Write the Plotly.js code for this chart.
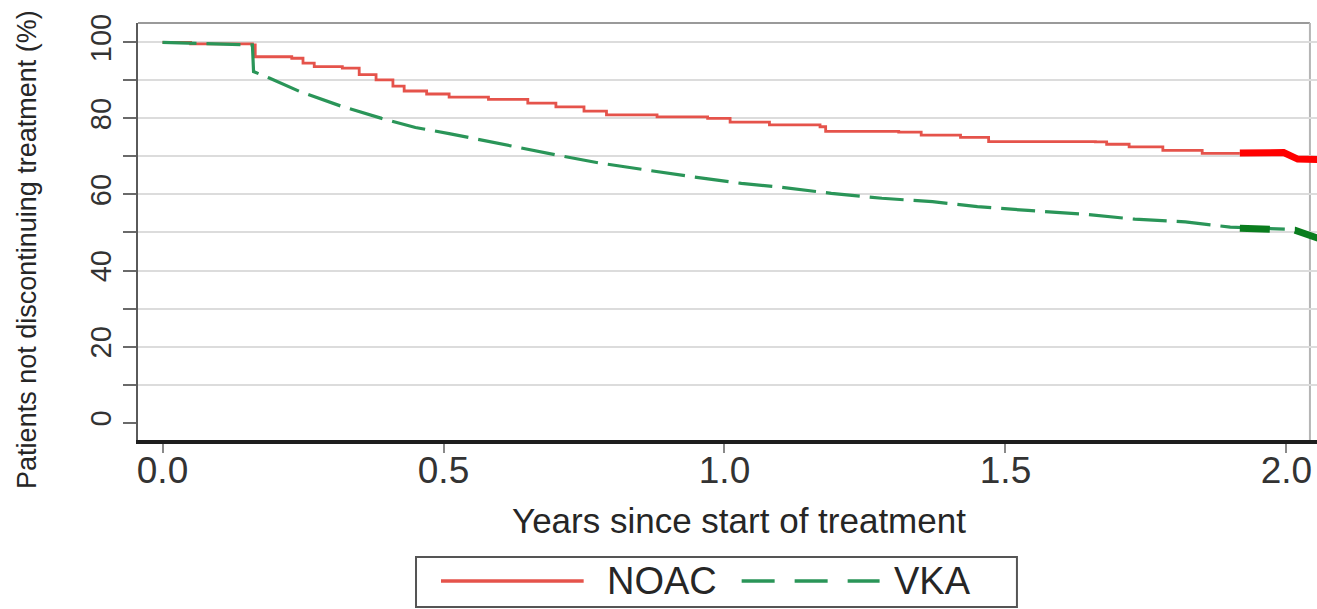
<!DOCTYPE html>
<html>
<head>
<meta charset="utf-8">
<script src="https://cdn.plot.ly/plotly-3.0.1.min.js"></script>
<style>
  html, body { margin: 0; padding: 0; background: #ffffff; }
  #chart { width: 1317px; height: 609px; }
</style>
</head>
<body>
<div id="chart"></div>
<script>
// Kaplan-Meier style persistence curves: share of patients still on treatment
const seriesNames = ["NOAC", "VKA"];

// NOAC (step curve), years since start vs % not discontinuing
const noacYears = [0, 0.05, 0.16, 0.165, 0.23, 0.25, 0.27, 0.32, 0.35, 0.38, 0.41, 0.43, 0.47, 0.51,
  0.58, 0.65, 0.70, 0.75, 0.79, 0.88, 0.97, 1.01, 1.08, 1.17, 1.18, 1.31, 1.35, 1.42, 1.47,
  1.66, 1.68, 1.72, 1.78, 1.85, 1.917];
const noacPct = [100, 99.6, 99.3, 96.2, 95.8, 94.5, 93.6, 93.2, 91.5, 90.1, 88.5, 87.2, 86.4, 85.6,
  85.0, 84.0, 83.0, 81.9, 80.9, 80.4, 80.0, 79.0, 78.3, 77.8, 76.6, 76.4, 75.6, 75.0, 73.9,
  73.8, 73.2, 72.5, 71.6, 70.8, 70.8];

// VKA curve
const vkaYears = [0, 0.08, 0.16, 0.162, 0.19, 0.245, 0.32, 0.39, 0.45, 0.51, 0.61, 0.70, 0.78, 0.86,
  0.94, 1.03, 1.10, 1.19, 1.28, 1.37, 1.45, 1.54, 1.64, 1.73, 1.82, 1.90, 1.997];
const vkaPct = [100, 99.6, 99.3, 92.3, 90.6, 87.0, 83.1, 80.0, 77.6, 76.0, 73.0, 70.4, 68.2, 66.4,
  64.7, 62.9, 61.9, 60.3, 59.0, 58.1, 56.8, 55.8, 54.8, 53.5, 52.8, 51.4, 50.9];

// Highlighted tail segments at the end of follow-up
const noacTailYears = [1.917, 1.995, 2.02, 2.06];
const noacTailPct = [70.9, 71.0, 69.3, 69.2];
const vkaTailYears = [1.917, 1.99, 2.015, 2.06];
const vkaTailPct = [51.1, 51.0, 50.6, 48.3];

// Axis ticks and titles
const xTickVals = [0, 0.5, 1.0, 1.5, 2.0];
const xTickText = ["0.0", "0.5", "1.0", "1.5", "2.0"];
const yTickVals = [0, 10, 20, 30, 40, 50, 60, 70, 80, 90, 100];
const yTickText = ["0", "", "20", "", "40", "", "60", "", "80", "", "100"];
const yGridVals = [10, 20, 30, 40, 50, 60, 70, 80, 90, 100];
const xTitle = "Years since start of treatment";
const yTitle = "Patients not discontinuing treatment (%)";

const RED = "#e5534b";
const GREEN = "#2a9558";
const INK = "#262626";
const FONT = "Liberation Sans, Arial, Helvetica, sans-serif";

const traces = [
  {
    x: noacYears, y: noacPct, name: seriesNames[0], type: "scatter", mode: "lines",
    line: { color: RED, width: 2.8, shape: "hv" }, showlegend: false, hoverinfo: "skip"
  },
  {
    x: vkaYears, y: vkaPct, name: seriesNames[1], type: "scatter", mode: "lines",
    line: { color: GREEN, width: 3.2, dash: "34px,10px" }, showlegend: false, hoverinfo: "skip"
  },
  {
    x: noacTailYears, y: noacTailPct, type: "scatter", mode: "lines",
    line: { color: "#ff0000", width: 7 }, showlegend: false, hoverinfo: "skip"
  },
  {
    x: vkaTailYears, y: vkaTailPct, type: "scatter", mode: "lines",
    line: { color: "#0a7d1e", width: 7, dash: "30px,25px" }, showlegend: false, hoverinfo: "skip"
  },
  // empty trace on the second y axis so its gridlines are drawn
  { x: [0], y: [0], yaxis: "y2", type: "scatter", mode: "none", showlegend: false, hoverinfo: "skip" }
];

const xRange = [-0.0436, 2.0543];
const yRange = [-4.55, 105.07];

// Legend drawn as a framed box below the x-axis title
const legendY = -0.338;
const shapes = [
  // top frame line
  { type: "line", xref: "paper", yref: "paper", x0: 0, x1: 0.994, y0: 1, y1: 1,
    line: { color: "#9a9a9a", width: 2 }, layer: "below" },
  // right frame line
  { type: "line", xref: "paper", yref: "paper", x0: 0.994, x1: 0.994, y0: 0, y1: 1,
    line: { color: "#b5b5b5", width: 2 }, layer: "below" },
  // legend frame
  { type: "rect", xref: "paper", yref: "paper", x0: 0.2358, x1: 0.7455, y0: -0.4005, y1: -0.2806,
    line: { color: "#555555", width: 2 }, fillcolor: "rgba(0,0,0,0)" },
  // legend samples
  { type: "line", xref: "paper", yref: "paper", x0: 0.257, x1: 0.378, y0: legendY, y1: legendY,
    line: { color: RED, width: 3.5 } },
  { type: "line", xref: "paper", yref: "paper", x0: 0.512, x1: 0.629, y0: legendY, y1: legendY,
    line: { color: GREEN, width: 3.5, dash: "33px,20px" } }
];

const annotations = [
  { xref: "paper", yref: "paper", x: 0.396, y: legendY, xanchor: "left", yanchor: "middle",
    text: seriesNames[0], showarrow: false, font: { family: FONT, size: 38, color: INK } },
  { xref: "paper", yref: "paper", x: 0.6395, y: legendY, xanchor: "left", yanchor: "middle",
    text: seriesNames[1], showarrow: false, font: { family: FONT, size: 38, color: INK } },
  // axis titles
  { xref: "paper", yref: "paper", x: 0.51, y: -0.192, xanchor: "center", yanchor: "middle",
    text: xTitle, showarrow: false, font: { family: FONT, size: 35, color: INK } },
  { xref: "paper", yref: "paper", x: -0.0941, y: 0.456, xanchor: "center", yanchor: "middle",
    textangle: -90, text: yTitle, showarrow: false, font: { family: FONT, size: 27, color: INK } }
];

const layout = {
  width: 1317, height: 609,
  margin: { l: 138, r: 0, t: 23, b: 169, pad: 0 },
  paper_bgcolor: "#ffffff", plot_bgcolor: "#ffffff",
  font: { family: FONT, color: INK },
  showlegend: false,
  xaxis: {
    range: xRange, tickmode: "array", tickvals: xTickVals, ticktext: xTickText,
    ticks: "outside", ticklen: 9, tickwidth: 2, tickcolor: "#8a8a8a",
    ticklabelstandoff: -14,
    showgrid: false, zeroline: false,
    showline: true, linecolor: "#1e1e1e", linewidth: 4,
    tickfont: { family: FONT, size: 37, color: "#333333" }
  },
  yaxis: {
    range: yRange, tickmode: "array", tickvals: yTickVals, ticktext: yTickText,
    ticks: "outside", ticklen: 13, tickwidth: 2, tickcolor: "#6a6a6a",
    tickangle: -90, showgrid: false, zeroline: false,
    showline: true, linecolor: "#5a5a5a", linewidth: 2.5,
    tickfont: { family: FONT, size: 29, color: "#333333" }
  },
  yaxis2: {
    range: yRange, overlaying: "y", side: "left", tickmode: "array", tickvals: yGridVals,
    showticklabels: false, ticks: "", showgrid: true, gridcolor: "#dcdcdc", gridwidth: 2,
    zeroline: false, showline: false
  },
  shapes: shapes,
  annotations: annotations
};

Plotly.newPlot("chart", traces, layout, { displayModeBar: false, staticPlot: true });
</script>
</body>
</html>
